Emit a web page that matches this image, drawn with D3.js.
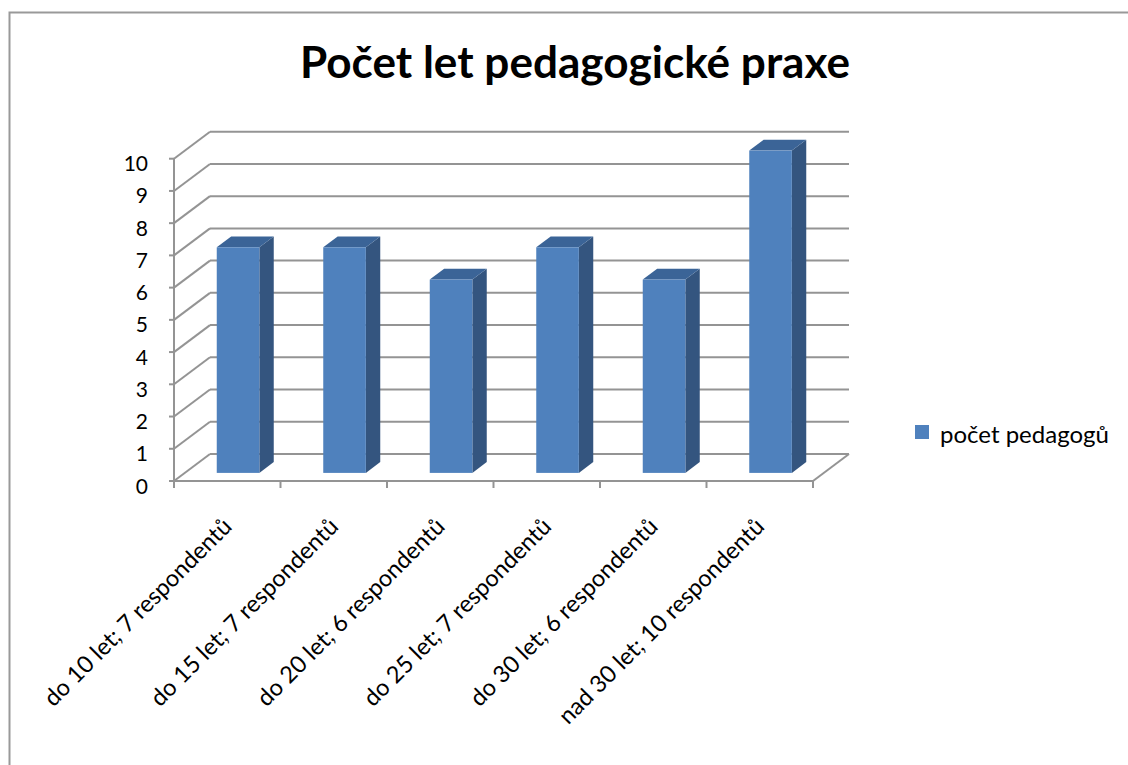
<!DOCTYPE html>
<html>
<head>
<meta charset="utf-8">
<script src="https://cdn.jsdelivr.net/npm/d3@7"></script>
<style>
  body { margin: 0; background: #fff; }
  text { font-family: Lato, "Open Sans", sans-serif; fill: #000; }
</style>
</head>
<body>
<script>
// data
var categories = [
    "do 10 let; 7 respondentů",
    "do 15 let; 7 respondentů",
    "do 20 let; 6 respondentů",
    "do 25 let; 7 respondentů",
    "do 30 let; 6 respondentů",
    "nad 30 let; 10 respondentů"
];
var values = [7, 7, 6, 7, 6, 10];
var yTicks = [0, 1, 2, 3, 4, 5, 6, 7, 8, 9, 10];
var seriesName = "počet pedagogů";
var title = "Počet let pedagogické praxe";

var W = 1128, H = 765;
var DX = 36, DY = -27;       // depth offset of the back wall
var d0 = 0.3, d1 = 0.7;      // bar depth range

var svg = d3.select("body").append("svg")
    .attr("width", W)
    .attr("height", H);

// chart border (only top/left visible)
svg.append("rect")
    .attr("x", 9.5).attr("y", 12.5)
    .attr("width", W + 20).attr("height", H + 20)
    .style("fill", "none")
    .style("stroke", "#999")
    .style("stroke-width", 2);

var x = d3.scaleBand().domain(categories).range([174, 813]).paddingInner(0).paddingOuter(0);
var y = d3.scaleLinear().domain([0, 10]).range([481, 158.7]);

var grid = svg.append("g")
    .style("stroke", "#949494")
    .style("stroke-width", 2)
    .style("fill", "none");

// back wall gridlines
grid.selectAll("line.back")
    .data(yTicks)
    .enter()
    .append("line")
    .attr("x1", x.range()[0] + DX)
    .attr("x2", x.range()[1] + DX)
    .attr("y1", (d) => y(d) + DY)
    .attr("y2", (d) => y(d) + DY);

// side wall gridlines
grid.selectAll("line.side")
    .data(yTicks)
    .enter()
    .append("line")
    .attr("x1", x.range()[0])
    .attr("x2", x.range()[0] + DX)
    .attr("y1", (d) => y(d))
    .attr("y2", (d) => y(d) + DY);

// floor edges
grid.append("line")
    .attr("x1", x.range()[0]).attr("x2", x.range()[1])
    .attr("y1", y(0)).attr("y2", y(0));
grid.append("line")
    .attr("x1", x.range()[1]).attr("x2", x.range()[1] + DX)
    .attr("y1", y(0)).attr("y2", y(0) + DY);

// value axis
grid.append("line")
    .attr("x1", x.range()[0]).attr("x2", x.range()[0])
    .attr("y1", y(0)).attr("y2", y(10));
grid.selectAll("line.ytick")
    .data(yTicks)
    .enter()
    .append("line")
    .attr("x1", x.range()[0] - 5).attr("x2", x.range()[0])
    .attr("y1", (d) => y(d)).attr("y2", (d) => y(d));

// category ticks
var bounds = categories.map((c) => x(c)).concat([x.range()[1]]);
grid.selectAll("line.xtick")
    .data(bounds)
    .enter()
    .append("line")
    .attr("x1", (d) => d).attr("x2", (d) => d)
    .attr("y1", y(0)).attr("y2", y(0) + 7);

// y labels
svg.append("g")
    .selectAll("text")
    .data(yTicks)
    .enter()
    .append("text")
    .attr("x", 148)
    .attr("y", (d) => y(d) + 4)
    .attr("text-anchor", "end")
    .attr("dominant-baseline", "central")
    .style("font-size", "21px")
    .text((d) => d);

// bars
var bw = x.bandwidth() * 0.4;
var bars = svg.append("g")
    .selectAll("g")
    .data(categories.map((c, i) => ({ cat: c, v: values[i] })))
    .enter()
    .append("g");

function pts(a) { return a.map((p) => p.join(",")).join(" "); }

bars.each(function (d) {
    var g = d3.select(this);
    var cx = x(d.cat) + x.bandwidth() / 2;
    var xa = cx - bw / 2 + d0 * DX, xb = xa + bw;
    var dd = (d1 - d0);
    var yt = y(d.v) + d0 * DY, yb = y(0) + d0 * DY;
    g.append("polygon") // side
        .attr("points", pts([[xb, yt], [xb + dd * DX, yt + dd * DY], [xb + dd * DX, yb + dd * DY], [xb, yb]]))
        .style("fill", "#34557f");
    g.append("polygon") // top
        .attr("points", pts([[xa, yt], [xb, yt], [xb + dd * DX, yt + dd * DY], [xa + dd * DX, yt + dd * DY]]))
        .style("fill", "#3b6497");
    g.append("rect") // front
        .attr("x", xa).attr("y", yt)
        .attr("width", bw).attr("height", yb - yt)
        .style("fill", "#4f81bd");
});

// category labels
svg.append("g")
    .selectAll("text")
    .data(categories)
    .enter()
    .append("text")
    .attr("transform", (d) => "translate(" + (x(d) + x.bandwidth() / 2 + 6) + ",528) rotate(-45)")
    .attr("text-anchor", "end")
    .style("font-size", "23.5px")
    .text((d) => d);

// title
svg.append("text")
    .attr("x", 575)
    .attr("y", 78)
    .attr("text-anchor", "middle")
    .attr("textLength", 550)
    .attr("lengthAdjust", "spacingAndGlyphs")
    .style("font-size", "44px")
    .style("font-weight", "bold")
    .text(title);

// legend
svg.append("rect")
    .attr("x", 915).attr("y", 425)
    .attr("width", 14).attr("height", 14)
    .style("fill", "#4f81bd");
svg.append("text")
    .attr("x", 940)
    .attr("y", 443)
    .style("font-size", "24px")
    .text(seriesName);
</script>
</body>
</html>
